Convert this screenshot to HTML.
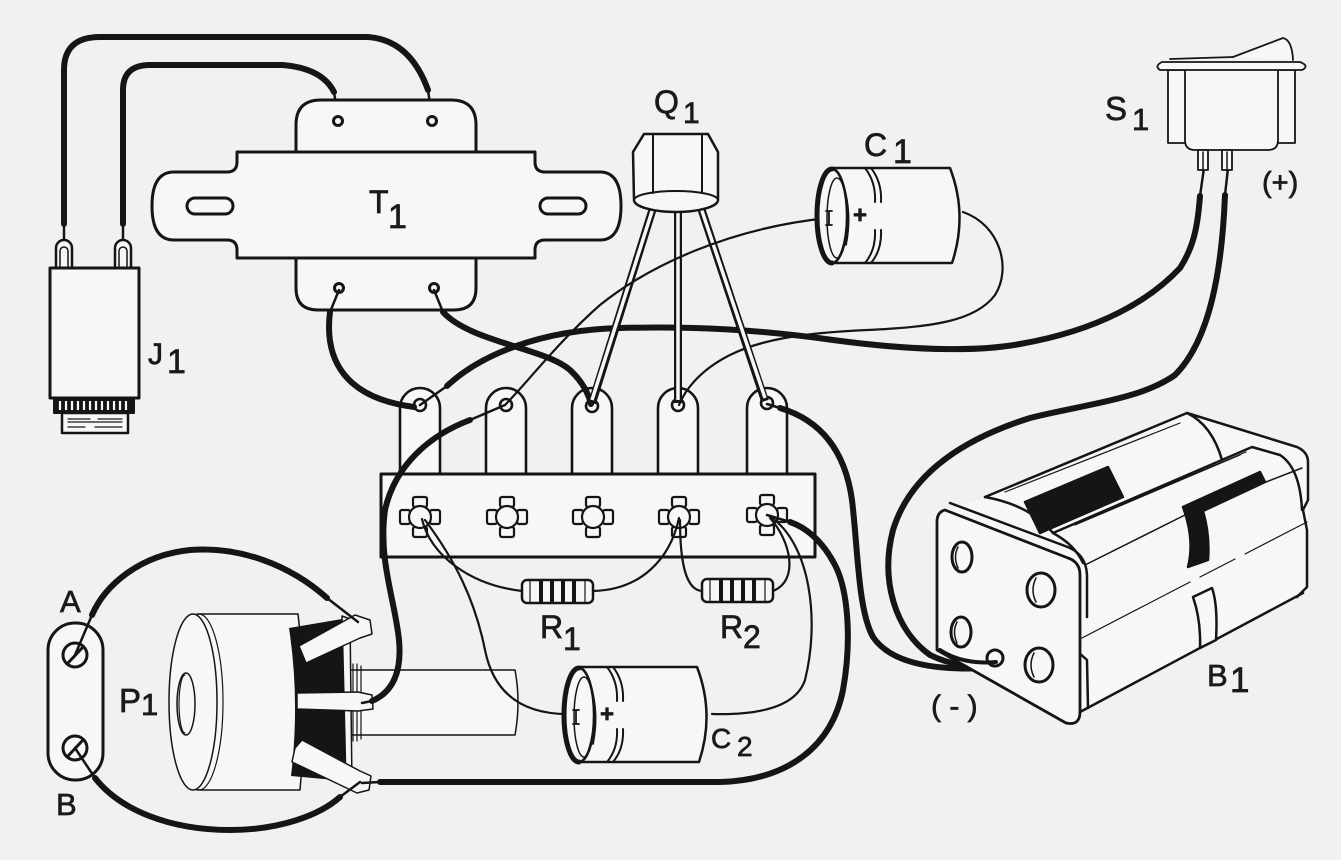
<!DOCTYPE html>
<html><head><meta charset="utf-8">
<style>
html,body{margin:0;padding:0;background:#f1f1ef;}
svg{display:block}
text{font-family:"Liberation Sans",Arial,sans-serif;fill:#1a1a1a;stroke:#1a1a1a;stroke-width:0.7}
</style></head><body>
<svg width="1341" height="860" viewBox="0 0 1341 860" xmlns="http://www.w3.org/2000/svg">
<rect width="1341" height="860" fill="#f1f1ef"/>
<g fill="none" stroke="#151515" stroke-linecap="round" stroke-linejoin="round">

<!-- J1 wires -->
<path d="M64,224 L64,70 Q64,37 100,37 L368,37 Q410,40 428,90" stroke-width="6"/>
<path d="M428,90 L432,118" stroke-width="2.5"/>
<path d="M123,224 L123,90 Q123,65 150,65 L282,65 Q322,68 334,92" stroke-width="6"/>
<path d="M334,92 L338,118" stroke-width="2.5"/>
<path d="M64,224 L64,242 M123,224 L123,242" stroke-width="2.5"/>

<!-- J1 -->
<path d="M56,268 L56,248 A8,8 0 0 1 72,248 L72,268" fill="#f7f7f5" stroke-width="2.5"/>
<path d="M60,266 L60,251 A4,4 0 0 1 68,251 L68,266" stroke-width="1.5"/>
<path d="M115,268 L115,248 A8,8 0 0 1 131,248 L131,268" fill="#f7f7f5" stroke-width="2.5"/>
<path d="M119,266 L119,251 A4,4 0 0 1 127,251 L127,266" stroke-width="1.5"/>
<rect x="50" y="268" width="89" height="130" fill="#f7f7f5" stroke-width="3"/>
<rect x="54" y="398" width="80" height="15" fill="#151515" stroke-width="2"/>
<path d="M60,401 L60,410 M66,401 L66,410 M72,401 L72,410 M78,401 L78,410 M84,401 L84,410 M90,401 L90,410 M96,401 L96,410 M102,401 L102,410 M108,401 L108,410 M114,401 L114,410 M120,401 L120,410 M126,401 L126,410" stroke="#f7f7f5" stroke-width="2.2" stroke-linecap="butt"/>
<rect x="62" y="413" width="66" height="20" fill="#f7f7f5" stroke-width="2.5"/>
<path d="M68,419 L90,419 M98,419 L122,419 M68,422 L122,422 M68,427 L85,427 M95,427 L122,427" stroke-width="1.2"/>

<!-- T1 -->
<path d="M296,155 L296,125 Q296,100 321,100 L451,100 Q476,100 476,125 L476,155" fill="#f7f7f5" stroke-width="3"/>
<path d="M296,258 L296,288 Q296,310 318,310 L454,310 Q476,310 476,288 L476,258" fill="#f7f7f5" stroke-width="3"/>
<path d="M237,152 L535,152 L535,162 Q535,172 545,172 L600,172 Q621,172 621,206 Q621,240 600,240 L545,240 Q535,240 535,250 L535,258 L237,258 L237,250 Q237,240 227,240 L174,240 Q152,240 152,206 Q152,172 174,172 L227,172 Q237,172 237,162 Z" fill="#f7f7f5" stroke-width="3"/>
<rect x="187" y="198" width="46" height="16" rx="8" stroke-width="3"/>
<rect x="540" y="198" width="46" height="16" rx="8" stroke-width="3"/>
<circle cx="338" cy="121" r="4.5" stroke-width="3" fill="#f7f7f5"/>
<circle cx="432" cy="121" r="4.5" stroke-width="3" fill="#f7f7f5"/>
<circle cx="339" cy="288" r="4.5" stroke-width="3" fill="#f7f7f5"/>
<circle cx="434" cy="288" r="4.5" stroke-width="3" fill="#f7f7f5"/>

<!-- Terminal strip lugs -->
<g fill="#f7f7f5" stroke-width="2.6">
<path d="M400,474 L400,408 A20,20 0 0 1 440,408 L440,474"/>
<path d="M486,474 L486,408 A20,20 0 0 1 526,408 L526,474"/>
<path d="M572,474 L572,408 A20,20 0 0 1 612,408 L612,474"/>
<path d="M658,474 L658,408 A20,20 0 0 1 698,408 L698,474"/>
<path d="M747,474 L747,408 A20,20 0 0 1 787,408 L787,474"/>
<circle cx="420" cy="405" r="6"/>
<circle cx="506" cy="405" r="6"/>
<circle cx="592" cy="406" r="6"/>
<circle cx="678" cy="405" r="6"/>
<circle cx="767" cy="403" r="6"/>
<rect x="381" y="474" width="434" height="83" stroke-width="3"/>
</g>

<!-- sockets -->
<g fill="#f7f7f5" stroke-width="2.2">
<g transform="translate(420,517)"><rect x="-7" y="-20" width="14" height="10" rx="2"/><rect x="-7" y="10" width="14" height="10" rx="2"/><rect x="-20" y="-7" width="10" height="14" rx="2"/><rect x="10" y="-7" width="10" height="14" rx="2"/><circle r="11"/></g>
<g transform="translate(507,517)"><rect x="-7" y="-20" width="14" height="10" rx="2"/><rect x="-7" y="10" width="14" height="10" rx="2"/><rect x="-20" y="-7" width="10" height="14" rx="2"/><rect x="10" y="-7" width="10" height="14" rx="2"/><circle r="11"/></g>
<g transform="translate(593,517)"><rect x="-7" y="-20" width="14" height="10" rx="2"/><rect x="-7" y="10" width="14" height="10" rx="2"/><rect x="-20" y="-7" width="10" height="14" rx="2"/><rect x="10" y="-7" width="10" height="14" rx="2"/><circle r="11"/></g>
<g transform="translate(679,517)"><rect x="-7" y="-20" width="14" height="10" rx="2"/><rect x="-7" y="10" width="14" height="10" rx="2"/><rect x="-20" y="-7" width="10" height="14" rx="2"/><rect x="10" y="-7" width="10" height="14" rx="2"/><circle r="11"/></g>
<g transform="translate(767,515)"><rect x="-7" y="-20" width="14" height="10" rx="2"/><rect x="-7" y="10" width="14" height="10" rx="2"/><rect x="-20" y="-7" width="10" height="14" rx="2"/><rect x="10" y="-7" width="10" height="14" rx="2"/><circle r="11"/></g>
</g>

<!-- P1 shaft, knob, housing -->
<path d="M350,670 L515,670 Q521,702 515,735 L350,735" fill="#f7f7f5" stroke-width="1.5"/>
<path d="M353,664 L353,741 M357,664 L357,741 M361,666 L361,739" stroke-width="1.2"/>
<path d="M197,614 L298,614 Q308,702 300,790 L197,790 Z" fill="#f7f7f5" stroke-width="1.5"/>
<ellipse cx="193" cy="702" rx="24" ry="88" fill="#f7f7f5" stroke-width="1.5"/>
<path d="M199,614 A24,88 0 0 1 199,790" stroke-width="1.2"/>
<ellipse cx="186" cy="704" rx="9" ry="31" stroke-width="1.5"/>
<path d="M185,675 A6,29 0 0 0 185,733" stroke-width="1.2"/>
<path d="M289,628 L342,619 L346,781 L291,776 Q300,700 289,628 Z" fill="#151515" stroke="none"/>
<path d="M342,616 L350,619 L352,786 L346,784 Z" fill="#f7f7f5" stroke-width="1.5"/>
<path d="M299,646 L355,615 L370,620 L372,634 L360,638 L306,663 Z" fill="#f7f7f5" stroke-width="1.5"/>
<path d="M297,693 L358,692 L372,695 L373,709 L358,711 L297,709 Z" fill="#f7f7f5" stroke-width="1.5"/>
<path d="M295,748 L302,740 L360,771 L371,776 L369,790 L357,793 L292,762 Z" fill="#f7f7f5" stroke-width="1.5"/>

<!-- P1 bracket -->
<rect x="48" y="623" width="55" height="157" rx="27" fill="#f7f7f5" stroke-width="3"/>
<circle cx="75" cy="655" r="12" stroke-width="3" fill="#f7f7f5"/>
<path d="M68,663 L83,647" stroke-width="3"/>
<circle cx="75" cy="748" r="12" stroke-width="3" fill="#f7f7f5"/>
<path d="M68,756 L83,740" stroke-width="3"/>

<!-- Thick wires -->
<g stroke-width="6">
<path d="M330,312 C324,360 345,398 414,407"/>
<path d="M443,312 C470,342 545,348 570,370 C584,383 589,396 591,404"/>
<path d="M447,386 C480,355 540,330 620,328 C700,326 760,330 833,340 C900,349 970,353 1020,344 C1100,330 1150,300 1180,268 C1195,245 1198,222 1200,196"/>
<path d="M1225,195 C1222,270 1210,340 1175,375 C1140,400 1080,405 1030,418 C960,440 910,475 893,530 C880,580 895,630 930,655 C950,665 975,668 990,664"/>
<path d="M780,408 C820,420 845,450 852,500 C858,550 858,610 873,637 C890,662 930,671 988,668"/>
<path d="M470,420 C430,435 395,465 385,510 C378,560 395,600 399,640 C402,672 393,692 372,701"/>
<path d="M380,782 L720,782 C790,780 832,745 843,690 C852,640 848,590 835,565 C822,540 805,527 790,522"/>
<path d="M92,615 C105,585 140,555 190,550 C240,546 290,565 327,598"/>
<path d="M95,778 C120,810 170,830 230,830 C280,830 320,815 340,797"/>
</g>
<g stroke-width="2.5">
<path d="M339,290 L330,312"/>
<path d="M434,290 L443,312"/>
<path d="M420,405 L447,386"/>
<path d="M1200,196 L1204,168"/>
<path d="M1228,168 L1225,195"/>
<path d="M767,404 L780,408"/>
<path d="M505,405 L470,420"/>
<path d="M372,701 L362,703"/>
<path d="M362,783 L380,782"/>
<path d="M790,522 L767,515"/>
<path d="M75,655 L92,615"/>
<path d="M327,598 L358,622"/>
<path d="M75,748 L95,778"/>
<path d="M340,797 L360,782"/>
</g>

<!-- Thin wires -->
<g stroke-width="2.2">
<path d="M963,212 C1000,225 1012,268 995,295 C975,322 930,327 867,330 C800,333 760,340 730,355 C700,370 685,390 679,405"/>
<path d="M422,519 C430,555 470,585 522,591"/>
<path d="M425,520 C455,560 475,600 485,650 C495,700 530,715 572,714"/>
<path d="M679,518 C670,560 640,590 593,591"/>
<path d="M680,520 C680,560 685,590 702,591"/>
<path d="M770,518 C790,540 800,580 773,591"/>
<path d="M772,518 C810,545 820,620 805,680 C795,710 750,715 712,714"/>
</g>

<!-- Q1 legs -->
<path d="M653,208 L592,403 M678,208 L678,403 M701,208 L765,401" stroke-width="8" stroke-linecap="butt"/>
<path d="M653,208 L592,400 M678,208 L678,400 M701,208 L765,398" stroke="#f7f7f5" stroke-width="3.5" stroke-linecap="butt"/>
<path d="M505,405 C525,385 560,340 600,305 C650,265 730,228 828,218" stroke-width="2.2"/>

<!-- Q1 body -->
<path d="M633,152 L644,134 L708,134 L718,152 L718,200 A42,12 0 0 1 634,200 Z" fill="#f7f7f5" stroke-width="2.5"/>
<path d="M634,200 A42,9 0 0 1 718,200" stroke-width="2"/>
<path d="M653,135 L653,193 M702,135 L702,193" stroke-width="2"/>

<!-- Resistors -->
<rect x="522" y="580" width="71" height="23" rx="5" fill="#f7f7f5" stroke-width="2.5"/>
<path d="M541,581 L541,602 M552,581 L552,602 M563,581 L563,602 M574,581 L574,602" stroke-width="4" stroke-linecap="butt"/>
<path d="M530,580 L530,603 M585,580 L585,603" stroke-width="1.2"/>
<rect x="702" y="579" width="71" height="23" rx="5" fill="#f7f7f5" stroke-width="2.5"/>
<path d="M721,580 L721,601 M732,580 L732,601 M743,580 L743,601 M754,580 L754,601" stroke-width="4" stroke-linecap="butt"/>
<path d="M710,579 L710,602 M765,579 L765,602" stroke-width="1.2"/>

<!-- C1 -->
<g>
<path d="M833,168 L950,168 Q968,215 952,263 L830,263 Z" fill="#f7f7f5" stroke-width="2.5"/>
<ellipse cx="832" cy="216" rx="15" ry="47" fill="#f7f7f5" stroke-width="2.5"/>
<path d="M832,169 A15,47 0 0 0 832,263" stroke-width="5"/>
<ellipse cx="837" cy="218" rx="10" ry="40" stroke-width="1.5"/>
<path d="M844,187 Q852,215 846,245" stroke-width="1.8"/>
<path d="M865,168 Q876,182 875,202 M871,168 Q882,182 881,202 M865,263 Q876,250 875,230 M871,263 Q882,250 881,230" stroke-width="2"/>
<path d="M829,211 L829,225 M826,211 L832,211 M826,225 L832,225" stroke-width="1.8"/>
</g>
<text x="853" y="223" font-size="24" font-weight="bold">+</text>

<!-- C2 -->
<g transform="translate(-253,499)">
<path d="M833,168 L950,168 Q968,215 952,263 L830,263 Z" fill="#f7f7f5" stroke-width="2.5"/>
<ellipse cx="832" cy="216" rx="15" ry="47" fill="#f7f7f5" stroke-width="2.5"/>
<path d="M832,169 A15,47 0 0 0 832,263" stroke-width="5"/>
<ellipse cx="837" cy="218" rx="10" ry="40" stroke-width="1.5"/>
<path d="M844,187 Q852,215 846,245" stroke-width="1.8"/>
<path d="M860,168 Q871,182 870,202 M866,168 Q877,182 876,202 M860,263 Q871,250 870,230 M866,263 Q877,250 876,230" stroke-width="2"/>
<path d="M829,211 L829,225 M826,211 L832,211 M826,225 L832,225" stroke-width="1.8"/>
</g>
<text x="600" y="722" font-size="24" font-weight="bold">+</text>

<!-- S1 -->
<g stroke-width="1.8" fill="#f7f7f5">
<path d="M1233,57 L1283,38 Q1292,40 1293,60"/>
<path d="M1170,59 L1233,57"/>
<rect x="1168" y="70" width="127" height="73"/>
<path d="M1185,70 L1185,140 Q1185,150 1195,150 L1268,150 Q1278,150 1278,140 L1278,70"/>
<path d="M1162,62 L1300,62 Q1310,66 1302,70 L1160,70 Q1154,66 1162,62 Z"/>
<rect x="1198" y="150" width="10" height="20"/>
<rect x="1222" y="150" width="10" height="20"/>
</g>
<path d="M1203,152 L1203,172 M1227,152 L1227,170" stroke-width="1.5"/>

<!-- Battery B1 -->
<path d="M937,515 L985,497 L1187,413 L1297,447 L1308,460 L1308,590 L1297,597 L1080,712 L1068,723 L937,650 Z" fill="#f7f7f5" stroke="none"/>
<g stroke-width="2.5">
<path d="M985,497 L1187,413 L1297,447 Q1308,452 1308,462 L1308,500 L1303,510 L1307,530 L1307,587 L1297,597"/>
<path d="M1005,492 L1180,423" stroke-width="1.2"/>
<path d="M1187,413 Q1212,425 1222,460" stroke-width="2.5"/>
<path d="M1053,533 L1252,447 L1280,455 Q1300,468 1302,510"/>
<path d="M1068,527 L1246,452" stroke-width="1.2"/>
<path d="M1075,525 L1240,455" stroke-width="1.2"/>
<path d="M985,497 Q1030,505 1053,533 Q1075,545 1083,563"/>
<path d="M1085,565 L1185,515 M1212,503 L1302,468" stroke-width="1.5"/>
<path d="M1082,638 L1190,582 M1200,577 L1235,559 M1245,554 L1307,522" stroke-width="1.2"/>
<path d="M1080,712 L1303,593"/>
<path d="M1193,597 L1212,588 Q1218,605 1216,640 L1200,648 Q1201,620 1193,597 Z" fill="#f7f7f5"/>
<path d="M1025,502 L1108,467 L1123,497 L1040,533 Z" fill="#151515"/>
<path d="M1183,507 L1260,472 L1265,482 L1203,511 Q1210,535 1208,560 L1188,567 Q1195,540 1183,507 Z" fill="#151515"/>
<path d="M950,503 L1065,546 Q1086,553 1087,575 L1087,617 M1078,652 L1087,660 L1088,708" />
<path d="M945,510 Q937,512 937,522 L937,650 L1066,723 Q1080,726 1080,712 L1080,575 Q1080,562 1068,558 Z" fill="#f7f7f5" stroke-width="2.8"/>
<ellipse cx="962" cy="557" rx="10" ry="15" stroke-width="3"/>
<ellipse cx="1041" cy="590" rx="14" ry="17" stroke-width="3"/>
<ellipse cx="961" cy="632" rx="10" ry="15" stroke-width="3"/>
<ellipse cx="1039" cy="665" rx="14" ry="17" stroke-width="3"/>
<path d="M958,547 Q953,557 958,568 M1036,578 Q1030,590 1036,602 M957,622 Q952,632 957,643 M1034,653 Q1028,665 1034,677" stroke-width="1.5"/>
<circle cx="995" cy="658" r="8" stroke-width="3" fill="#f7f7f5"/>
</g>
<path d="M940,650 C955,660 975,664 996,662" stroke-width="4"/>
</g>

<!-- Labels -->
<g>
<text x="654" y="113" font-size="32">Q</text><text x="683" y="123" font-size="30">1</text>
<text x="369" y="213" font-size="32">T</text><text x="388" y="228" font-size="34">1</text>
<text x="864" y="156" font-size="32">C</text><text x="893" y="163" font-size="34">1</text>
<text x="1105" y="120" font-size="33">S</text><text x="1132" y="130" font-size="31">1</text>
<text x="1262" y="192" font-size="29">(+)</text>
<text x="148" y="364" font-size="30">J</text><text x="167" y="373" font-size="34">1</text>
<text x="60" y="612" font-size="31">A</text>
<text x="119" y="712" font-size="33">P</text><text x="141" y="715" font-size="31">1</text>
<text x="56" y="815" font-size="31">B</text>
<text x="540" y="638" font-size="32">R</text><text x="563" y="650" font-size="32">1</text>
<text x="720" y="638" font-size="32">R</text><text x="743" y="648" font-size="32">2</text>
<text x="711" y="748" font-size="28">C</text><text x="737" y="756" font-size="28">2</text>
<text x="931" y="716" font-size="30">( - )</text>
<text x="1207" y="686" font-size="31">B</text><text x="1230" y="692" font-size="35">1</text>
</g>
</svg>
</body></html>
